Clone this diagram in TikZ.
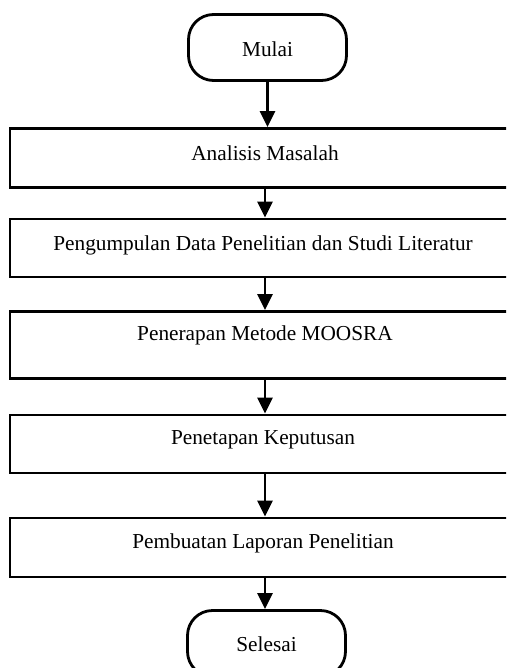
\documentclass[tikz,border=0pt]{standalone}
\usepackage{fontspec}
\setmainfont{Liberation Serif}
\usetikzlibrary{arrows.meta}
\begin{document}
\begin{tikzpicture}[x=1pt,y=-1pt,
  stepbox/.style={draw, line width=2.8pt, minimum width=510pt, inner sep=0pt},
  term/.style={draw, line width=2.8pt, rounded corners=25pt, minimum width=158pt, minimum height=66pt, inner sep=0pt},
  lbl/.style={font=\fontsize{21.3}{24}\selectfont, inner sep=0pt},
  arr/.style={line width=2.6pt, -{Triangle[width=15pt,length=16pt]}}
]
\useasboundingbox (0,0) rectangle (506,668);
\clip (0,0) rectangle (506,668);
\fill[white] (0,0) rectangle (506,668);
% terminals
\node[term] (m) at (267.5,47.5) {};
\node[lbl] (tm) at (267.5,49) {Mulai};
\node[term] (s) at (266.5,643.5) {};
\node[lbl] (ts) at (266.5,644) {Selesai};
% boxes
\node[stepbox, minimum height=59pt] (b1) at (265,158) {};
\node[lbl] (t1) at (265,153) {Analisis Masalah};
\node[stepbox, minimum height=58pt] (b2) at (265,248) {};
\node[lbl] (t2) at (263,245) {Pengumpulan Data Penelitian dan Studi Literatur};
\node[stepbox, minimum height=67pt] (b3) at (265,345) {};
\node[lbl] (t3) at (265,335) {Penerapan Metode MOOSRA};
\node[stepbox, minimum height=58pt] (b4) at (265,444) {};
\node[lbl] (t4) at (263,440) {Penetapan Keputusan};
\node[stepbox, minimum height=59pt] (b5) at (265,547.5) {};
\node[lbl] (t5) at (263,543) {Pembuatan Laporan Penelitian};
% arrows
\draw[arr] (m.south) -- (m.south |- b1.north);
\draw[arr] (b1.south) -- (b2.north);
\draw[arr] (b2.south) -- (b3.north);
\draw[arr] (b3.south) -- (b4.north);
\draw[arr] (b4.south) -- (b5.north);
\draw[arr] (b5.south) -- (b5.south |- s.north);
\end{tikzpicture}
\end{document}
